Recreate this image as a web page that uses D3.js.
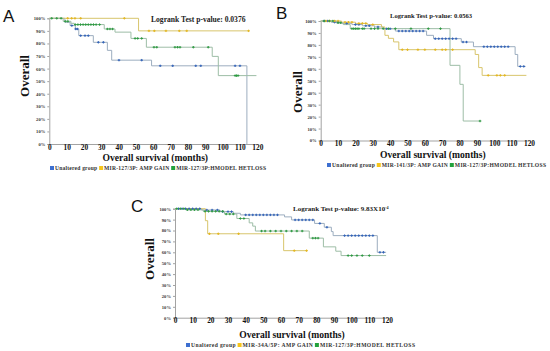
<!DOCTYPE html>
<html>
<head>
<meta charset="utf-8">
<script src="https://cdn.jsdelivr.net/npm/d3@7/dist/d3.min.js"></script>
<style>
  html, body { margin: 0; padding: 0; background: #fff; }
  svg { display: block; }
</style>
</head>
<body>
<svg id="chart" width="550" height="351"></svg>
<script>
// Kaplan-Meier curves, three panels (A, B, C)
// each curve = [month, survival %] step points, censor marks = months

const TIME_TICKS = [0, 10, 20, 30, 40, 50, 60, 70, 80, 90, 100, 110, 120];
const PCT_TICKS  = [0, 10, 20, 30, 40, 50, 60, 70, 80, 90, 100];

// ── Panel A ───────────────────────────────────────────────────
const A_UNALTERED = [[0,100],[9,96.8],[12,94.2],[15,91.5],[17,86.2],[25.4,80.9],[33.5,74.5],[36,66.7],[59,62.2],[114,0]];
const A_AMP       = [[0,100],[51.5,90],[115,90]];
const A_HET       = [[0,100],[8,97.6],[12.5,96],[14.4,95],[31.7,91.5],[37.9,89],[47.1,84],[56,77],[94,69.7],[97.5,54.4],[119.5,54.4]];
const A_UNALTERED_CENS = [13,15.2,16.2,18.1,20.6,22.5,28.3,31.2,40.2,53.3,64,71.2,84.5,87.4,107.2,110];
const A_AMP_CENS       = [10.6,12.9,14.8,18.1,43.3,57.5,60.6,67.3,75,79.3,115];
const A_HET_CENS       = [1.4,4.3,6.8,9.2,10.7,15,16.5,18,19.5,21,22.5,24,25.5,27,29,33.5,35,36.5,49.5,51,53.3,60.4,62,72.5,74,75.4,83.1,91.7,107.2,108,108.9];

// ── Panel B ───────────────────────────────────────────────────
const B_UNALTERED = [[0,100],[6,99],[12,98],[18,97],[24,96],[31,95],[36,93.5],[43,91.6],[61,88],[65,85.2],[81,82.4],[88,78.5],[112,72],[113.5,62],[118,62]];
const B_AMP       = [[0,100],[12,99],[20,98],[27,97],[35,95],[37,88],[39,85.5],[42,82.5],[45,76],[89,72],[91,61],[93,54.5],[118.5,54.5]];
const B_HET       = [[0,100],[9,98.5],[13,97],[17,93.6],[74.5,62.9],[80.2,47],[82.1,16.3],[91.8,16.3]];
const B_UNALTERED_CENS = [2,4,8,10,15,20,22,26,28,33,38,40,45,47,49,51,53,55,57,59,66,68,70,72,74,76,78,82,84,94,96,98,100,102,104,106,108,115,117];
const B_AMP_CENS       = [3,5,8,10,14,16,18,22,24,26,30,47,50,56,60,66,70,72,76,96.5,101.5,103.5,106];
const B_HET_CENS       = [2,5,7,10,11.5,18,19,20,21,22,24,25,29,31,33,36,39,43,52,62,69,91.8];

// ── Panel C ───────────────────────────────────────────────────
const C_UNALTERED = [[0,100],[15,98.8],[25.5,97.3],[33,95.8],[37,94.3],[62,92.5],[66,89.7],[79,86.5],[84.5,83],[88.5,79],[89.5,75.3],[114.5,60],[119.5,60]];
const C_AMP       = [[0,100],[17.2,89],[18.5,77],[61.5,61.5],[74.5,61.5]];
const C_HET       = [[0,100],[6,99],[16,97.6],[28,95.1],[35,91],[42,87],[44,84],[45.5,79.5],[76,73],[84,65],[91,61],[94,57],[119.5,57]];
const C_UNALTERED_CENS = [2,4,6,8,10,12,14,18,21,24,27,30,32,40,42,44,46,48,50,52,54,56,58,68,70,72,74,76,78,82,86,96,98,100,102,104,106,108,110,112,116,118];
const C_AMP_CENS       = [19.5,24.5,36,67.5,74.5];
const C_HET_CENS       = [1,3,5,7,9,11,13,17,19,21,23,25,27,29,31,33,37,39,49,51,54,57,60,63,66,69,72,78,79.5,81,98,100,103,106,110];

const LEGEND_A = ["Unaltered group", "MIR-127/3P: AMP GAIN", "MIR-127/3P:HMODEL HETLOSS"];
const LEGEND_B = ["Unaltered group", "MIR-141/3P: AMP GAIN", "MIR-127/3P:HMODEL HETLOSS"];
const LEGEND_C = ["Unaltered group", "MIR-34A/5P: AMP GAIN", "MIR-127/3P:HMODEL HETLOSS"];

const PVAL_A = "0.0376";
const PVAL_B = "0.0563";
const PVAL_C = ["9.83X10", "-4"];

// styles
const LINE_COLORS = ["#9cadbf", "#d8c56c", "#9dbda6"];
const MARK_COLORS = ["#3363b8", "#e4b620", "#2f9a43"];
const KEY_COLORS  = ["#3d6fd0", "#f6c51a", "#22a23c"];
const SERIF = "'Liberation Serif', 'Times New Roman', serif";

const svg = d3.select("#chart");

// level of a step curve at month t
function levelAt(curve, t) {
  let v = curve[0][1];
  curve.forEach(p => { if (p[0] <= t) v = p[1]; });
  return v;
}

function drawPanel(cfg) {
  const xs = d3.scaleLinear().domain([0, 120]).range([cfg.x0, cfg.x1]);
  const ys = d3.scaleLinear().domain([0, 100]).range([cfg.yBot, cfg.yTop]);
  const g = svg.append("g");

  // axes
  g.append("g")
    .attr("transform", `translate(${cfg.x0},0)`)
    .call(d3.axisLeft(ys).tickValues(PCT_TICKS).tickSize(2).tickPadding(2).tickFormat(d => d + "%"))
    .call(a => a.select(".domain").attr("stroke", "#a3a3a3"))
    .call(a => a.selectAll(".tick line").attr("stroke", "#a3a3a3"))
    .call(a => a.selectAll("text").attr("fill", "#333").attr("font-size", "4.6px")
      .attr("font-family", SERIF).attr("font-weight", "bold"));

  g.append("g")
    .attr("transform", `translate(0,${cfg.yBot})`)
    .call(d3.axisBottom(xs).tickValues(TIME_TICKS).tickSize(0).tickPadding(0.5))
    .call(a => a.select(".domain").attr("stroke", "#a3a3a3"))
    .call(a => a.selectAll("text").attr("fill", "#111").attr("font-size", "7.4px")
      .attr("font-family", SERIF).attr("font-weight", "bold"));

  // curves
  const line = d3.line().x(d => xs(d[0])).y(d => ys(d[1])).curve(d3.curveStepAfter);
  cfg.curves.forEach((c, i) => {
    g.append("path").attr("d", line(c)).attr("fill", "none")
      .attr("stroke", LINE_COLORS[i]).attr("stroke-width", 1);
  });

  // censor marks
  cfg.cens.forEach((ms, i) => {
    g.selectAll(null).data(ms).join("path")
      .attr("transform", m => `translate(${xs(m)},${ys(levelAt(cfg.curves[i], m))})`)
      .attr("d", "M-1.3,0H1.3M0,-1.2V1.2")
      .attr("stroke", MARK_COLORS[i]).attr("stroke-width", 1);
  });

  // panel letter
  svg.append("text").attr("x", cfg.letterX).attr("y", cfg.letterY)
    .attr("font-family", "'Liberation Sans', Arial, sans-serif")
    .attr("font-size", "17px").attr("fill", "#111").text(cfg.letter);

  // logrank
  const lr = svg.append("text").attr("x", cfg.lrX).attr("y", cfg.lrY)
    .attr("font-family", SERIF).attr("font-weight", "bold")
    .attr("font-size", cfg.lrSize + "px").attr("fill", "#222");
  if (Array.isArray(cfg.pval)) {
    lr.append("tspan").text("Logrank Test p-value: " + cfg.pval[0]);
    lr.append("tspan").attr("dy", -2.5).attr("font-size", (cfg.lrSize * 0.6) + "px").text(cfg.pval[1]);
  } else {
    lr.text("Logrank Test p-value: " + cfg.pval);
  }

  // axis titles
  svg.append("text").attr("x", (cfg.x0 + cfg.x1) / 2 + cfg.xlDx).attr("y", cfg.xlY)
    .attr("text-anchor", "middle").attr("font-family", SERIF).attr("font-weight", "bold")
    .attr("font-size", "9.6px").attr("fill", "#111").text("Overall survival (months)");

  svg.append("text")
    .attr("transform", `translate(${cfg.ylX},${cfg.ylY}) rotate(-90)`)
    .attr("text-anchor", "middle").attr("font-family", SERIF).attr("font-weight", "bold")
    .attr("font-size", "13px").attr("fill", "#111").text("Overall");

  // legend: stretched to span legX..legEnd like the reference
  const items = cfg.legend.map((name, i) => {
    const t = svg.append("text").attr("y", cfg.legY)
      .attr("font-family", SERIF).attr("font-weight", "bold")
      .attr("font-size", "5.6px").attr("fill", "#333").text(name);
    return { t, w: t.node().getComputedTextLength() };
  });
  const natural = d3.sum(items, d => d.w);
  const k = (cfg.legEnd - cfg.legX - items.length * 7) / natural;
  let lx = cfg.legX;
  items.forEach((d, i) => {
    svg.append("rect").attr("x", lx).attr("y", cfg.legY - 4).attr("width", 4).attr("height", 4)
      .attr("fill", KEY_COLORS[i]);
    d.t.attr("x", lx + 5).attr("textLength", d.w * k).attr("lengthAdjust", "spacing");
    lx += 7 + d.w * k;
  });
}

drawPanel({
  x0: 49.3, x1: 257.3, yTop: 18.3, yBot: 144,
  curves: [A_UNALTERED, A_AMP, A_HET], cens: [A_UNALTERED_CENS, A_AMP_CENS, A_HET_CENS],
  letter: "A", letterX: 3, letterY: 22,
  pval: PVAL_A, lrX: 151, lrY: 21.5, lrSize: 7.6,
  xlDx: 2, xlY: 160.5, ylX: 29, ylY: 76,
  legend: LEGEND_A, legX: 50, legEnd: 268, legY: 170
});

drawPanel({
  x0: 320.7, x1: 529, yTop: 21, yBot: 140.5,
  curves: [B_UNALTERED, B_AMP, B_HET], cens: [B_UNALTERED_CENS, B_AMP_CENS, B_HET_CENS],
  letter: "B", letterX: 276, letterY: 19,
  pval: PVAL_B, lrX: 390, lrY: 17.5, lrSize: 6.6,
  xlDx: 8, xlY: 158, ylX: 302, ylY: 92,
  legend: LEGEND_B, legX: 327, legEnd: 548, legY: 167
});

drawPanel({
  x0: 175, x1: 387, yTop: 208.7, yBot: 317.7,
  curves: [C_UNALTERED, C_AMP, C_HET], cens: [C_UNALTERED_CENS, C_AMP_CENS, C_HET_CENS],
  letter: "C", letterX: 131, letterY: 212,
  pval: PVAL_C, lrX: 293, lrY: 211, lrSize: 7,
  xlDx: 11, xlY: 337.5, ylX: 154, ylY: 259,
  legend: LEGEND_C, legX: 186, legEnd: 417, legY: 347
});
</script>
</body>
</html>
